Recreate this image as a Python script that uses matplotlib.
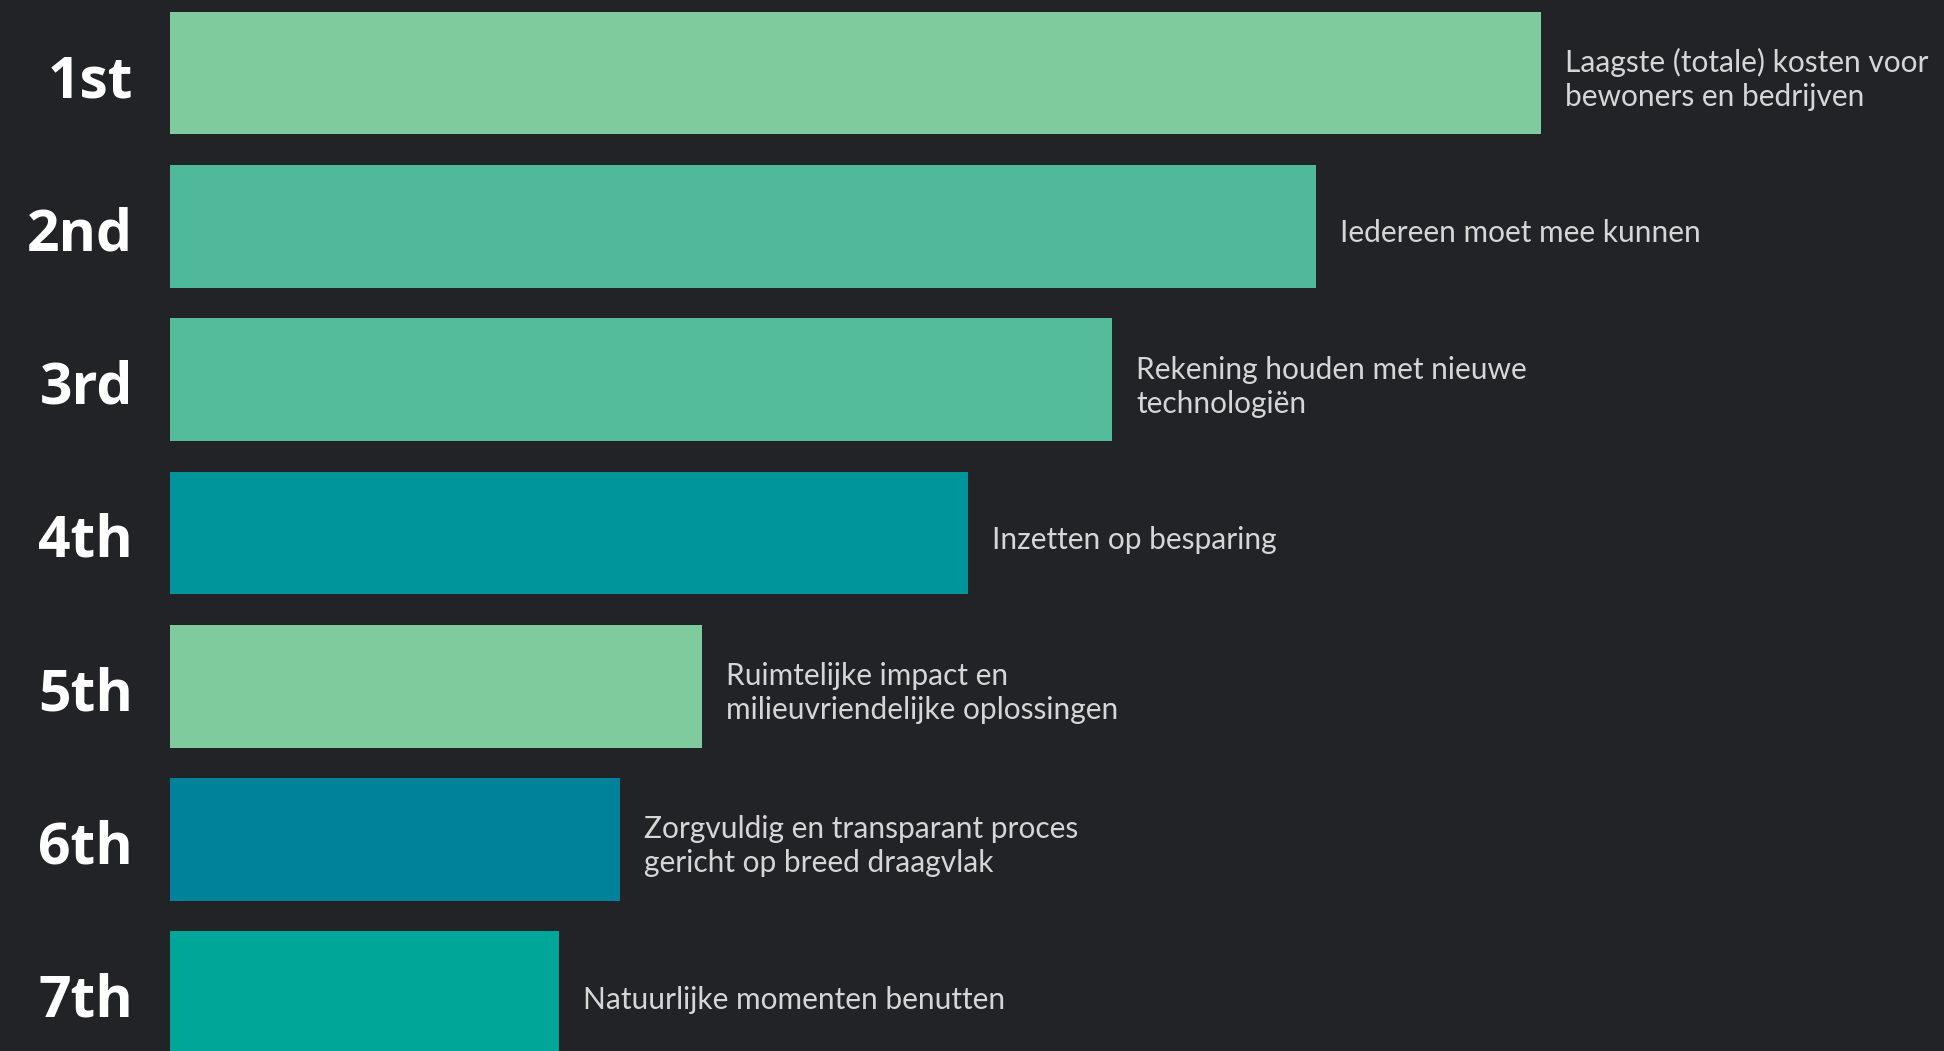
import matplotlib
matplotlib.use("Agg")
import matplotlib.pyplot as plt

RANKS = ["1st", "2nd", "3rd", "4th", "5th", "6th", "7th"]
SCORES = [137.1, 114.6, 94.2, 79.8, 53.2, 45.0, 38.9]
LABELS = [
    ["Laagste (totale) kosten voor", "bewoners en bedrijven"],
    ["Iedereen moet mee kunnen"],
    ["Rekening houden met nieuwe", "technologiën"],
    ["Inzetten op besparing"],
    ["Ruimtelijke impact en", "milieuvriendelijke oplossingen"],
    ["Zorgvuldig en transparant proces", "gericht op breed draagvlak"],
    ["Natuurlijke momenten benutten"],
]
BAR_COLORS = ["#80cb9e", "#51b99b", "#54bb9b", "#00959b", "#80cb9e", "#00829b", "#00a697"]

BG = "#222326"
FIG_W, FIG_H, DPI = 19.44, 10.51, 100
AX_LEFT_PX = 170
PITCH_PX = 153.3
FIRST_CENTER_PX = 73


def main() -> None:
    fig = plt.figure(figsize=(FIG_W, FIG_H), dpi=DPI, facecolor=BG)
    width_px = FIG_W * DPI
    height_px = FIG_H * DPI
    ax = fig.add_axes([AX_LEFT_PX / width_px, 0, 1 - AX_LEFT_PX / width_px, 1])
    ax.set_facecolor(BG)

    # 1 data unit in x = 10 px, 1 unit in y = one row
    ax.set_xlim(0, (width_px - AX_LEFT_PX) / 10)
    top = -FIRST_CENTER_PX / PITCH_PX
    bottom = (height_px - FIRST_CENTER_PX) / PITCH_PX
    ax.set_ylim(bottom, top)
    ax.axis("off")

    positions = list(range(len(SCORES)))
    ax.barh(positions, SCORES, height=0.8, color=BAR_COLORS, edgecolor="none")

    px_y = 1 / PITCH_PX
    for pos, rank, score, lines in zip(positions, RANKS, SCORES, LABELS):
        ax.text(-3.7, pos + 24 * px_y, rank, ha="right", va="baseline",
                color="white", fontsize=41, fontweight="bold", family="Open Sans")
        n = len(lines)
        for i, line in enumerate(lines):
            offset = 16 + (i - (n - 1) / 2) * 34
            ax.text(score + 2.4, pos + offset * px_y, line, ha="left", va="baseline",
                    color="#d6d6d6", fontsize=21.5, family="Lato")

    fig.savefig("out.png", dpi=DPI, facecolor=BG)
    plt.close(fig)


if __name__ == "__main__":
    main()
